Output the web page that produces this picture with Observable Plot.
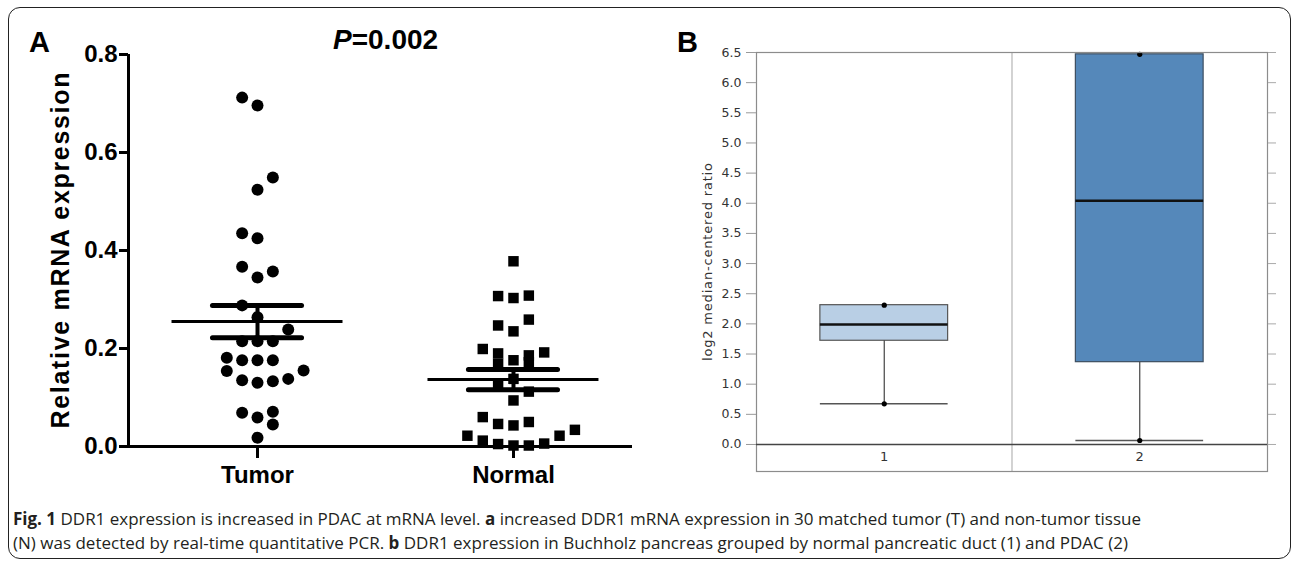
<!DOCTYPE html>
<html><head><meta charset="utf-8">
<script src="https://cdn.jsdelivr.net/npm/d3@7"></script>
<script src="https://cdn.jsdelivr.net/npm/@observablehq/plot@0.6"></script>
<style>
body{margin:0;background:#fff;}
#wrap{position:relative;width:1292px;height:562px;overflow:hidden;background:#fff;}
.frame{position:absolute;left:8px;top:7px;width:1283px;height:552px;border:1.6px solid #222;border-radius:12px;box-sizing:border-box;}
.abs{position:absolute;left:0;top:0;}
</style></head>
<body><div id="wrap"><div class="frame"></div>
<div id="pa" class="abs"></div>
<div id="pb" class="abs" style="left:640px"></div>
<svg id="ov" class="abs" width="1292" height="562" style="pointer-events:none">
  <g font-family="Liberation Sans, Arial, sans-serif" font-weight="bold" fill="#000">
    <text x="29" y="52" font-size="29">A</text>
    <text x="677" y="52" font-size="29">B</text>
    <text x="333" y="49" font-size="28"><tspan font-style="italic">P</tspan>=0.002</text>
  </g>
  <g font-family="Open Sans, sans-serif" font-size="17" fill="#231f20">
    <text x="13" y="525" textLength="1128" lengthAdjust="spacing"><tspan font-weight="bold">Fig. 1</tspan> DDR1 expression is increased in PDAC at mRNA level. <tspan font-weight="bold">a</tspan> increased DDR1 mRNA expression in 30 matched tumor (T) and non-tumor tissue</text>
    <text x="13" y="549" textLength="1115" lengthAdjust="spacing">(N) was detected by real-time quantitative PCR. <tspan font-weight="bold">b</tspan> DDR1 expression in Buchholz pancreas grouped by normal pancreatic duct (1) and PDAC (2)</text>
  </g>
</svg>
</div>
<script>
// ---------- Panel A data ----------
const groups = ["Tumor", "Normal"];
const tumorValues = [0.712, 0.696, 0.549, 0.524, 0.435, 0.425, 0.367, 0.345, 0.357, 0.288,
  0.264, 0.239, 0.215, 0.215, 0.215, 0.181, 0.176, 0.176, 0.176, 0.154,
  0.155, 0.135, 0.130, 0.133, 0.138, 0.069, 0.059, 0.071, 0.045, 0.018];
const tumorSlots = [-1, 0, 1, 0, -1, 0, -1, 0, 1, -1,
  0, 2, -1, 0, 1, -2, -1, 0, 1, -2,
  3, -1, 0, 1, 2, -1, 0, 1, 1, 0];
const normalValues = [0.378, 0.307, 0.303, 0.308, 0.259, 0.247, 0.235, 0.199, 0.190, 0.186,
  0.192, 0.169, 0.176, 0.172, 0.128, 0.138, 0.112, 0.094, 0.060, 0.046,
  0.043, 0.050, 0.022, 0.012, 0.005, 0.002, 0.002, 0.006, 0.022, 0.034];
const normalSlots = [0, -1, 0, 1, 1, -1, 0, -2, -1, 1,
  2, -1, 0, 1, -1, 0, 1, 0, -2, -1,
  0, 1, -3, -2, -1, 0, 1, 2, 3, 4];
const means = [0.255, 0.1365];
const sems = [0.033, 0.0205];
const yTicksA = [0, 0.2, 0.4, 0.6, 0.8];
const yLabelA = "Relative mRNA expression";

// ---------- Panel B data ----------
const boxCats = ["1", "2"];
const boxMin = [0.675, 0.066];
const boxQ1 = [1.72, 1.365];
const boxMedian = [1.99, 4.04];
const boxQ3 = [2.31, 6.47];
const boxMax = [2.31, 6.47];
const yTicksB = [0, 0.5, 1.0, 1.5, 2.0, 2.5, 3.0, 3.5, 4.0, 4.5, 5.0, 5.5, 6.0, 6.5];
const yLabelB = "log2 median-centered ratio";

// ---------- styles ----------
const SLOT = 0.06, MEANHALF = 0.334, SEMHALF = 0.174, BOXHALF = 0.25;
const boxFills = ["#b9cfe5", "#5588ba"];

const tumor = tumorValues.map((v, i) => ({g: 1, v, s: tumorSlots[i]}));
const normal = normalValues.map((v, i) => ({g: 2, v, s: normalSlots[i]}));
const summary = means.map((m, i) => ({g: i + 1, m, lo: m - sems[i], hi: m + sems[i]}));
const xDomA = [0.496, 2.465];

const plotA = Plot.plot({
  width: 650, height: 500, marginLeft: 128, marginRight: 18, marginTop: 54, marginBottom: 54,
  style: {fontFamily: "Liberation Sans, Arial, sans-serif", fontWeight: "bold", fontSize: "24px", color: "#000", background: "transparent"},
  x: {domain: xDomA},
  y: {domain: [0, 0.8]},
  marks: [
    Plot.axisY({ticks: yTicksA, tickFormat: d3.format(".1f"), tickSize: 9, tickPadding: 2, strokeWidth: 3, fontSize: 24, fontWeight: "bold", label: null}),
    Plot.axisX({ticks: [1, 2], tickFormat: d => groups[d - 1], tickSize: 12, tickPadding: 7, strokeWidth: 3, fontSize: 24, fontWeight: "bold", label: null}),
    Plot.ruleX([xDomA[0]], {y1: 0, y2: 0.8, strokeWidth: 3}),
    Plot.ruleY([0], {strokeWidth: 3}),
    Plot.dot(tumor, {x: d => d.g + d.s * SLOT, y: "v", r: 6, fill: "#000", stroke: null}),
    Plot.dot(normal, {x: d => d.g + d.s * SLOT, y: "v", r: 5.9, symbol: "square", fill: "#000", stroke: null}),
    Plot.ruleY(summary, {x1: d => d.g - MEANHALF, x2: d => d.g + MEANHALF, y: "m", strokeWidth: 3}),
    Plot.ruleY(summary, {x1: d => d.g - SEMHALF, x2: d => d.g + SEMHALF, y: "hi", strokeWidth: 5, strokeLinecap: "round"}),
    Plot.ruleY(summary, {x1: d => d.g - SEMHALF, x2: d => d.g + SEMHALF, y: "lo", strokeWidth: 5, strokeLinecap: "round"}),
    Plot.ruleX(summary, {x: "g", y1: "lo", y2: "hi", strokeWidth: 4}),
    Plot.text([yLabelA], {frameAnchor: "left", dx: -68, rotate: -90, fontSize: 25, fontWeight: "bold", fill: "#000"})
  ]
});
document.getElementById("pa").appendChild(plotA);

const boxes = boxCats.map((c, i) => ({c: i + 1, label: c, min: boxMin[i], q1: boxQ1[i], med: boxMedian[i], q3: boxQ3[i], max: boxMax[i]}));
const xDomB = [0.5, 2.5];

const plotB = Plot.plot({
  width: 652, height: 500, marginLeft: 116, marginRight: 25, marginTop: 52, marginBottom: 29,
  style: {fontFamily: "DejaVu Sans, sans-serif", fontSize: "12.5px", color: "#333", background: "transparent"},
  x: {domain: xDomB, axis: null},
  y: {domain: [-0.448, 6.5]},
  marks: [
    Plot.ruleX([(boxes[0].c + boxes[1].c) / 2], {stroke: "#b5b5b5", strokeWidth: 1.2}),
    Plot.rect([boxes[0]], {x1: d => d.c - BOXHALF, x2: d => d.c + BOXHALF, y1: "q1", y2: "q3", fill: boxFills[0], stroke: "#555", strokeWidth: 1.2}),
    Plot.rect([boxes[1]], {x1: d => d.c - BOXHALF, x2: d => d.c + BOXHALF, y1: "q1", y2: "q3", fill: boxFills[1], stroke: "#3d4e60", strokeWidth: 1.2}),
    Plot.ruleX(boxes, {x: "c", y1: "min", y2: "q1", stroke: "#444", strokeWidth: 1.2}),
    Plot.ruleY(boxes, {x1: d => d.c - BOXHALF, x2: d => d.c + BOXHALF, y: "min", stroke: "#555", strokeWidth: 1.6}),
    Plot.ruleY(boxes, {x1: d => d.c - BOXHALF, x2: d => d.c + BOXHALF, y: "med", stroke: "#111", strokeWidth: 2.5}),
    Plot.dot(boxes, {x: "c", y: "min", r: 2.6, fill: "#000", stroke: null}),
    Plot.dot(boxes, {x: "c", y: "max", r: 2.6, fill: "#000", stroke: null}),
    Plot.frame({stroke: "#8c8c8c", strokeWidth: 1.2}),
    Plot.ruleY([0], {stroke: "#444", strokeWidth: 1.3}),
    Plot.axisY({anchor: "left", ticks: yTicksB, tickFormat: d3.format(".1f"), tickSize: 10, tickPadding: 5, stroke: "#999", fill: "#333", fontSize: 12.5, label: null}),
    Plot.axisY({anchor: "right", ticks: yTicksB, tickFormat: () => "", tickSize: 8, stroke: "#aaa", label: null}),
    Plot.text(boxes, {x: "c", text: "label", frameAnchor: "bottom", dy: -11, fontSize: 13, fill: "#333"}),
    Plot.text([yLabelB], {frameAnchor: "left", dx: -49, rotate: -90, fontSize: 13, fill: "#333"})
  ]
});
document.getElementById("pb").appendChild(plotB);

// stretch rotated axis titles to the measured lengths (centred on their anchor)
function stretch(svg, label, len) {
  d3.select(svg).selectAll("text").filter(function () { return this.textContent === label; })
    .attr("text-anchor", "start").attr("x", -len / 2)
    .attr("textLength", len).attr("lengthAdjust", "spacing");
}
stretch(plotA, yLabelA, 356);
stretch(plotB, yLabelB, 198);
</script>
</body></html>
